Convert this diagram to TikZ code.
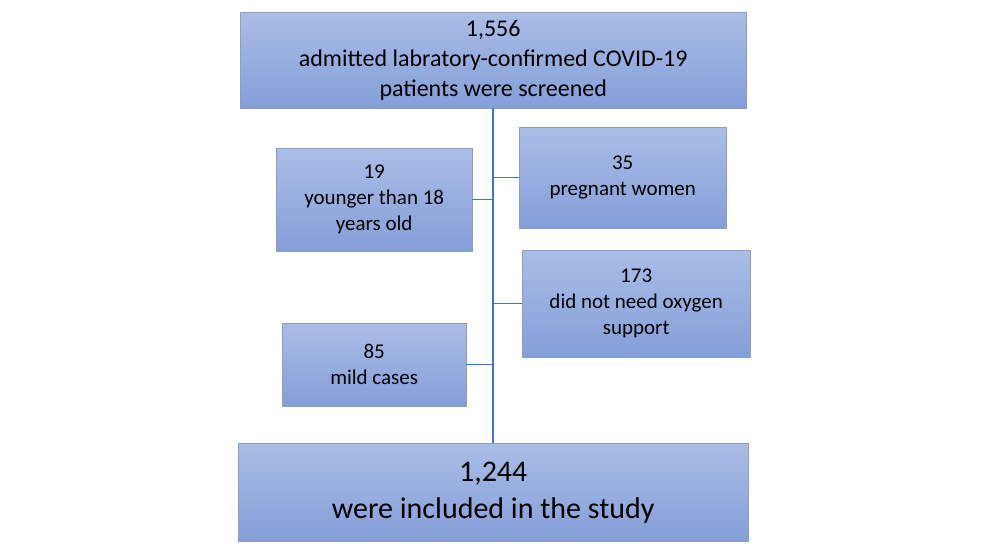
\documentclass[tikz,border=0pt]{standalone}
\usepackage{fontspec}
\setmainfont{Carlito}
\definecolor{boxtop}{RGB}{170,189,230}
\definecolor{boxbot}{RGB}{132,158,216}
\definecolor{boxline}{RGB}{140,158,196}
\definecolor{linkblue}{RGB}{68,114,196}
\tikzset{
  flowbox/.style={draw=boxline, top color=boxtop, bottom color=boxbot,
    anchor=north west, align=center, inner sep=0pt, font=\fontsize{21}{26}\selectfont},
  link/.style={linkblue, line width=1.3pt}
}
\begin{document}
\begin{tikzpicture}[x=1pt,y=-1pt]
\useasboundingbox (0,0) rectangle (986,548);
% Boxes
\node[flowbox, minimum width=506, minimum height=96, font=\fontsize{24}{30}\selectfont] (screen) at (240,12)
  {1,556\\admitted labratory-confirmed COVID-19\\patients were screened};
\node[flowbox, minimum width=196, minimum height=103] (young) at (276,148) {19\\younger than 18\\years old};
\node[flowbox, minimum width=207, minimum height=101] (preg) at (519,127) {35\\pregnant women};
\node[flowbox, minimum width=228, minimum height=107] (oxy) at (522,250) {173\\did not need oxygen\\support};
\node[flowbox, minimum width=184, minimum height=83] (mild) at (282,323) {85\\mild cases};
\node[flowbox, minimum width=510, minimum height=98, font=\fontsize{30}{37}\selectfont] (incl) at (238,443)
  {1,244\\were included in the study};
% Connectors
\coordinate (spine) at (493,0);
\draw[link] (screen.south -| spine) -- (incl.north -| spine);
\draw[link] (young.east) -- (young.east -| spine);
\draw[link] (preg.west) -- (preg.west -| spine);
\draw[link] (oxy.west) -- (oxy.west -| spine);
\draw[link] (mild.east) -- (mild.east -| spine);
\end{tikzpicture}
\end{document}
